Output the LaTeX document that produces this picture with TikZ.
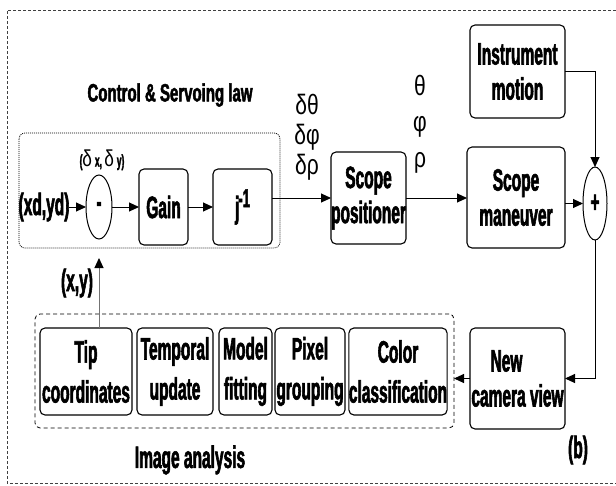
\documentclass[tikz,border=0pt]{standalone}
\usepackage{fontspec}
\setmainfont{Liberation Sans}[FakeStretch=0.5, BoldFeatures={FakeBold=1.8}]
\newfontfamily\greekfont{Liberation Sans}[FakeStretch=0.75]
\newfontfamily\headfont{Liberation Sans}[FakeStretch=0.6, BoldFeatures={FakeBold=1.8}]
\usetikzlibrary{arrows.meta,shapes.geometric,calc}

\begin{document}
\begin{tikzpicture}[x=1pt,y=-1pt,
  every node/.style={inner sep=0pt, outer sep=0pt},
  lbl/.style={font=\fontsize{31}{36}\selectfont\bfseries, align=center},
  head/.style={font=\headfont\fontsize{25}{30}\selectfont\bfseries, align=center},
  blk/.style={draw, rounded corners=5pt, line width=1.1pt, align=center,
              font=\fontsize{31}{35}\selectfont\bfseries},
  lowblk/.style={blk, font=\fontsize{31}{40}\selectfont\bfseries},
  sumnode/.style={draw, ellipse, line width=1pt, font=\fontsize{30}{30}\selectfont\bfseries},
  arr/.style={-{Triangle[length=10pt,width=9pt,color=black]}, line width=1pt},
  greek/.style={font=\fontsize{28}{30}\selectfont\greekfont, align=center}]

\useasboundingbox (0,0) rectangle (616,485);

% outer frame, open on the right
\draw[line width=0.7pt, black!75, dash pattern=on 3pt off 2pt]
  (616,10) -- (7,10) -- (7,483) -- (616,483);

% control & servoing law
\node[head] (ctrltitle) at (170,95) {Control \& Servoing law};
\draw[line width=0.7pt, dash pattern=on 1pt off 1pt, rounded corners=6pt]
  (19,133) rectangle (280,248);
\node[lbl] (xdyd) at (44,207) {(xd,yd)};
\node[sumnode, minimum width=26pt, minimum height=64pt] (minus) at (99,207) {-};
\node[font=\fontsize{17}{17}\selectfont\bfseries] (dxy) at (102,160)
  {({\greekfont\mdseries\fontsize{23}{23}\selectfont δ}\,x, {\greekfont\mdseries\fontsize{23}{23}\selectfont δ}\,y)};
\node[blk, minimum width=49pt, minimum height=76pt] (gain) at (163.5,207) {Gain};
\node[blk, minimum width=59pt, minimum height=76pt] (jinv) at (242.5,207)
  {j\kern-1pt\raisebox{11pt}{\fontsize{26}{26}\selectfont -1}};

\draw[arr] (xdyd) -- (minus);
\draw[arr] (minus) -- (gain);
\draw[arr] (gain) -- (jinv);

% increments and scope positioning
\node[greek] (dangles) at (307,137) {δθ\\δφ\\δρ};
\node[blk, minimum width=75pt, minimum height=92pt] (scopepos) at (368.5,198) {Scope\\positioner};
\draw[arr] (jinv.east |- scopepos.west) -- (scopepos.west);

\node[font=\fontsize{28}{36}\selectfont\greekfont, align=center] (angles) at (420,124) {θ\\φ\\ρ};
\node[blk, minimum width=98pt, minimum height=101pt] (scopeman) at (516,197.5) {Scope\\maneuver};
\draw[arr] (scopepos.east) -- (scopepos.east -| scopeman.west);

\node[blk, minimum width=95pt, minimum height=93pt] (instr) at (517.5,71.5) {Instrument\\motion};
\node[sumnode, minimum width=24pt, minimum height=73pt] (plus) at (595,203.5) {+};
\draw[arr] (instr.east) -| (plus.north);
\draw[arr] (scopeman.east |- plus.west) -- (plus.west);

% new camera view
\node[blk, minimum width=95pt, minimum height=101pt] (newcam) at (517.5,378.5)
  {New\hspace*{22pt}\\camera view};
\draw[arr] (plus.south) |- (newcam.east);

% image analysis
\node[draw, line width=0.8pt, dash pattern=on 4pt off 3pt, rounded corners=5pt,
      minimum width=419pt, minimum height=114pt] (imgbox) at (244.5,371) {};
\node[lowblk, minimum width=92pt, minimum height=87pt] (tip) at (86,371.5) {Tip\\coordinates};
\node[lowblk, minimum width=76pt, minimum height=87pt] (temporal) at (175,371.5) {Temporal\\update};
\node[lowblk, minimum width=53pt, minimum height=87pt] (model) at (245.5,371.5) {Model\\fitting};
\node[lowblk, minimum width=70pt, minimum height=87pt] (pixel) at (310,371.5) {Pixel\\grouping};
\node[lowblk, minimum width=98pt, minimum height=87pt] (color) at (398,371.5) {Color\\classification};
\node[lbl] (imgtitle) at (190,460) {Image analysis};

\draw[arr] (newcam.west) -- (newcam.west -| imgbox.east);

% feedback of tip position
\coordinate (fbend) at (99,258);
\draw[arr, black!55] (tip.north -| fbend) -- (fbend);
\node[lbl] (xy) at (77,283) {(x,y)};

\node[lbl] (tagb) at (578,450) {(b)};
\end{tikzpicture}
\end{document}
